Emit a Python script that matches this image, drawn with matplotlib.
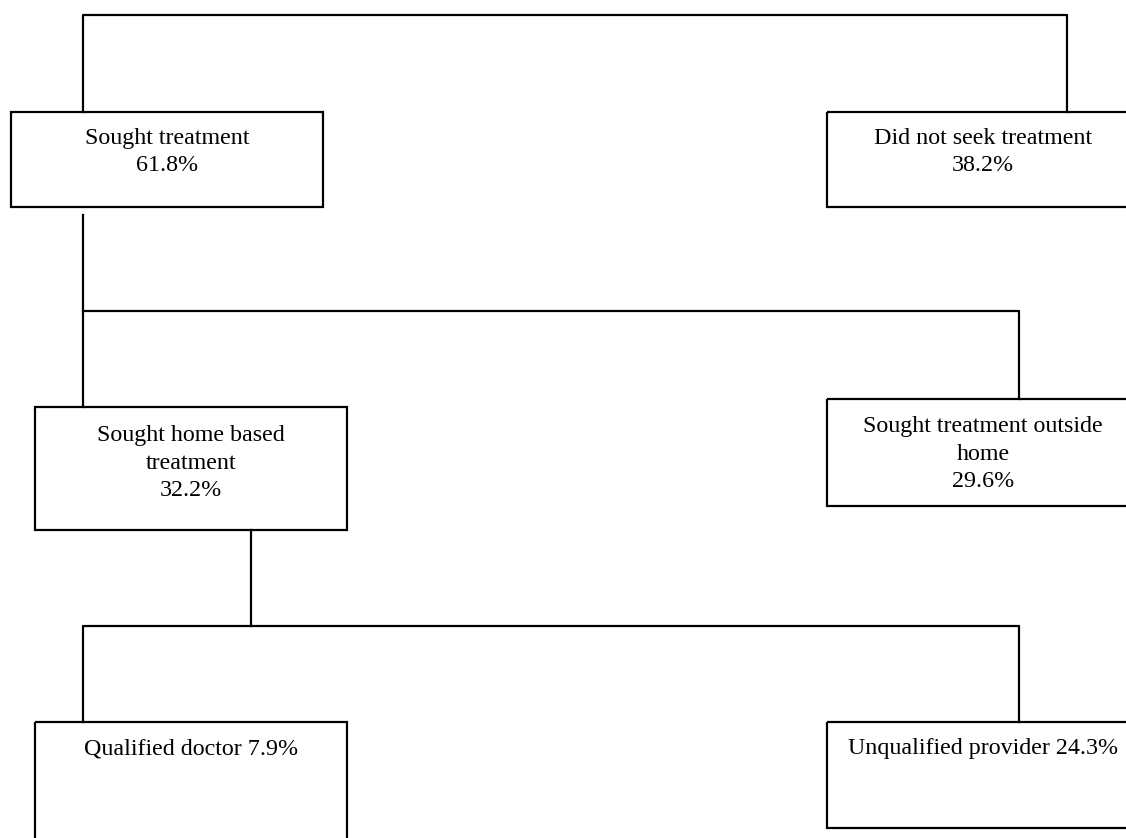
# Treatment-seeking flow chart
from matplotlib import pyplot as plt
from matplotlib import rcParams
from matplotlib.patches import Rectangle

rcParams['font.family'] = 'serif'
rcParams['font.serif'] = ['Liberation Serif', 'DejaVu Serif']

# Node texts
labels = ["Sought treatment", "Did not seek treatment",
          "Sought home based\ntreatment", "Sought treatment outside\nhome",
          "Qualified doctor", "Unqualified provider"]
percents = [61.8, 38.2, 32.2, 29.6, 7.9, 24.3]
inline = [False, False, False, False, True, True]

# Layout (pixel space, y downwards)
boxes = [(11, 112, 312, 95), (827, 112, 312, 95),
         (35, 407, 312, 123), (827, 399, 312, 107),
         (35, 722, 312, 125), (827, 722, 312, 106)]
text_y = [152, 152, 463, 454, 749, 748]
lines = [
    [(83, 112), (83, 15), (1067, 15), (1067, 112)],
    [(83, 215), (83, 407)],
    [(83, 311), (1019, 311), (1019, 399)],
    [(251, 530), (251, 626)],
    [(83, 722), (83, 626), (1019, 626), (1019, 722)],
]

fig = plt.figure(figsize=(11.26, 8.38), dpi=100)
a = fig.add_axes([0, 0, 1, 1])
a.set_xlim(0, 1126)
a.set_ylim(838, 0)
a.axis('off')

lw = 1.6
for pts in lines:
    xs = [p[0] for p in pts]
    ys = [p[1] for p in pts]
    a.plot(xs, ys, color='k', linewidth=lw, solid_capstyle='projecting')

for i in range(len(labels)):
    x, y, w, h = boxes[i]
    a.add_patch(Rectangle((x, y), w, h, fill=False, edgecolor='k', linewidth=lw))
    if inline[i]:
        txt = "%s %.1f%%" % (labels[i], percents[i])
    else:
        txt = "%s\n%.1f%%" % (labels[i], percents[i])
    a.text(x + w / 2, text_y[i], txt, ha='center', va='center',
           fontsize=17.3, linespacing=1.42, color='k')

fig.savefig('out.png', dpi=100)
